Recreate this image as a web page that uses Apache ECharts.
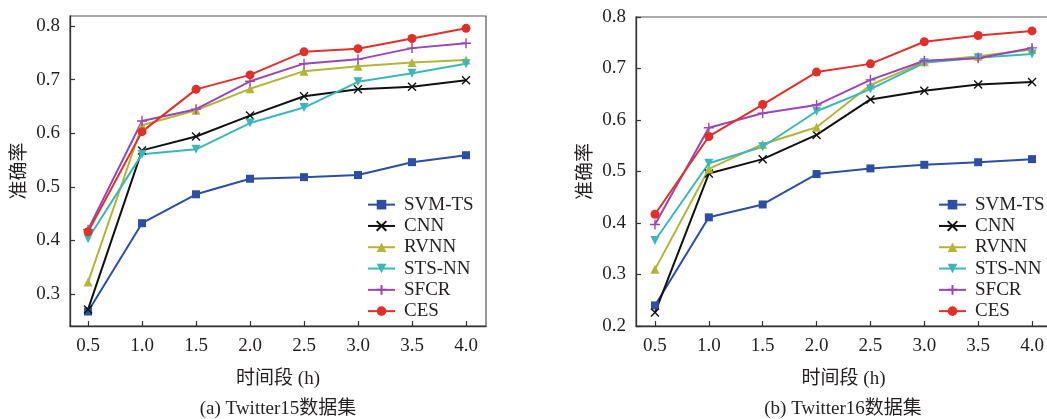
<!DOCTYPE html>
<html>
<head>
<meta charset="utf-8">
<script src="https://cdn.jsdelivr.net/npm/echarts@6/dist/echarts.min.js"></script>
<style>
  html, body { margin: 0; padding: 0; background: #fff; }
  #chart { width: 1047px; height: 419px; }
</style>
</head>
<body>
<div id="chart"></div>
<script>
// Time windows (hours) shared by both panels
const hours = [0.5, 1.0, 1.5, 2.0, 2.5, 3.0, 3.5, 4.0];
const xTicks = [0.5, 1.0, 1.5, 2.0, 2.5, 3.0, 3.5, 4.0];
const yTicksA = [0.3, 0.4, 0.5, 0.6, 0.7, 0.8];
const yTicksB = [0.2, 0.3, 0.4, 0.5, 0.6, 0.7, 0.8];
const methods = ['SVM-TS', 'CNN', 'RVNN', 'STS-NN', 'SFCR', 'CES'];

// Accuracy on Twitter15
const svmA  = [0.267, 0.432, 0.486, 0.515, 0.518, 0.522, 0.546, 0.559];
const cnnA  = [0.271, 0.568, 0.594, 0.633, 0.669, 0.682, 0.687, 0.699];
const rvnnA = [0.322, 0.615, 0.643, 0.683, 0.716, 0.725, 0.732, 0.737];
const stsA  = [0.403, 0.561, 0.570, 0.619, 0.648, 0.696, 0.712, 0.730];
const sfcrA = [0.420, 0.623, 0.645, 0.697, 0.730, 0.738, 0.759, 0.768];
const cesA  = [0.416, 0.603, 0.682, 0.709, 0.752, 0.758, 0.777, 0.796];

// Accuracy on Twitter16
const svmB  = [0.240, 0.411, 0.436, 0.495, 0.506, 0.513, 0.518, 0.524];
const cnnB  = [0.226, 0.496, 0.524, 0.571, 0.640, 0.657, 0.669, 0.674];
const rvnnB = [0.310, 0.505, 0.553, 0.586, 0.668, 0.713, 0.724, 0.737];
const stsB  = [0.366, 0.516, 0.548, 0.617, 0.660, 0.711, 0.721, 0.728];
const sfcrB = [0.397, 0.585, 0.613, 0.629, 0.678, 0.715, 0.720, 0.740];
const cesB  = [0.417, 0.568, 0.630, 0.693, 0.709, 0.752, 0.764, 0.773];

const FONT = '"Liberation Serif", "Times New Roman", "Noto Sans CJK SC", serif';
const TXT = '#231f20';

const styles = {
  'SVM-TS': { color: '#2c4fa3', symbol: 'rect', size: 8 },
  'CNN':    { color: '#111111', symbol: 'path://M0,0L10,10M10,0L0,10', size: 8, stroke: true },
  'RVNN':   { color: '#b5b43a', symbol: 'triangle', size: 9 },
  'STS-NN': { color: '#3cb7b9', symbol: 'triangle', size: 9, rotate: 180 },
  'SFCR':   { color: '#9a47b3', symbol: 'path://M5,0L5,10M0,5L10,5', size: 10, stroke: true },
  'CES':    { color: '#e1302a', symbol: 'circle', size: 9 }
};

function makeSeries(name, values, idx) {
  const s = styles[name];
  return {
    type: 'line',
    name: name,
    xAxisIndex: idx,
    yAxisIndex: idx,
    data: hours.map((h, i) => [h, values[i]]),
    symbol: s.symbol,
    symbolSize: s.size,
    symbolRotate: s.rotate || 0,
    symbolKeepAspect: true,
    showAllSymbol: true,
    lineStyle: { color: s.color, width: 2 },
    itemStyle: s.stroke
      ? { color: s.color, borderColor: s.color, borderWidth: 1.4 }
      : { color: s.color, borderWidth: 0 },
    emphasis: { disabled: true },
    animation: false
  };
}

function xAxis(idx, min, max) {
  return {
    type: 'value', gridIndex: idx, min: min, max: max,
    name: '时间段 (h)', nameLocation: 'middle', nameGap: 44,
    nameTextStyle: { fontFamily: FONT, fontSize: 19, color: TXT },
    axisLine: { show: true, lineStyle: { color: '#333', width: 1.3 } },
    axisTick: { show: true, inside: true, length: 5, customValues: xTicks,
                lineStyle: { color: '#333', width: 1.2 } },
    axisLabel: { customValues: xTicks, margin: 11, color: TXT, fontFamily: FONT, fontSize: 19,
                 formatter: v => Number(v).toFixed(1) },
    splitLine: { show: false }
  };
}

function yAxis(idx, min, max, ticks) {
  return {
    type: 'value', gridIndex: idx, min: min, max: max,
    name: '准确率', nameLocation: 'middle', nameRotate: 90, nameGap: 40,
    nameTextStyle: { fontFamily: FONT, fontSize: 19, color: TXT },
    axisLine: { show: true, lineStyle: { color: '#333', width: 1.3 } },
    axisTick: { show: true, inside: true, length: 5, customValues: ticks,
                lineStyle: { color: '#333', width: 1.2 } },
    axisLabel: { customValues: ticks, margin: 10, color: TXT, fontFamily: FONT, fontSize: 19,
                 formatter: v => Number(v).toFixed(1) },
    splitLine: { show: false }
  };
}

function legend(left) {
  return {
    orient: 'vertical', left: left, top: 190,
    itemWidth: 27, itemHeight: 12, itemGap: 2,
    data: methods,
    selectedMode: false,
    textStyle: { fontFamily: FONT, fontSize: 19, color: TXT, lineHeight: 19.3, padding: [0, 0, 0, 4] }
  };
}

const chart = echarts.init(document.getElementById('chart'), null, { renderer: 'canvas' });

const seriesA = [svmA, cnnA, rvnnA, stsA, sfcrA, cesA].map((v, i) => makeSeries(methods[i], v, 0));
const seriesB = [svmB, cnnB, rvnnB, stsB, sfcrB, cesB].map((v, i) => makeSeries(methods[i], v, 1));

chart.setOption({
  backgroundColor: '#ffffff',
  animation: false,
  grid: [
    { left: 70, top: 16, width: 416, height: 310, show: true, borderColor: '#555', borderWidth: 1.2,
      outerBoundsMode: 'none', containLabel: false },
    { left: 636, top: 17, width: 415, height: 309, show: true, borderColor: '#555', borderWidth: 1.2,
      outerBoundsMode: 'none', containLabel: false }
  ],
  xAxis: [xAxis(0, 0.333, 4.185), xAxis(1, 0.324, 4.176)],
  yAxis: [yAxis(0, 0.24, 0.819, yTicksA), yAxis(1, 0.2, 0.8, yTicksB)],
  legend: [legend(362), legend(933)],
  graphic: [
    { type: 'text', x: 278, y: 409,
      style: { text: '(a) Twitter15数据集', fontFamily: FONT, fontSize: 19, fill: TXT,
               align: 'center', verticalAlign: 'middle' } },
    { type: 'text', x: 843, y: 409,
      style: { text: '(b) Twitter16数据集', fontFamily: FONT, fontSize: 19, fill: TXT,
               align: 'center', verticalAlign: 'middle' } }
  ],
  series: seriesA.concat(seriesB)
});
</script>
</body>
</html>
